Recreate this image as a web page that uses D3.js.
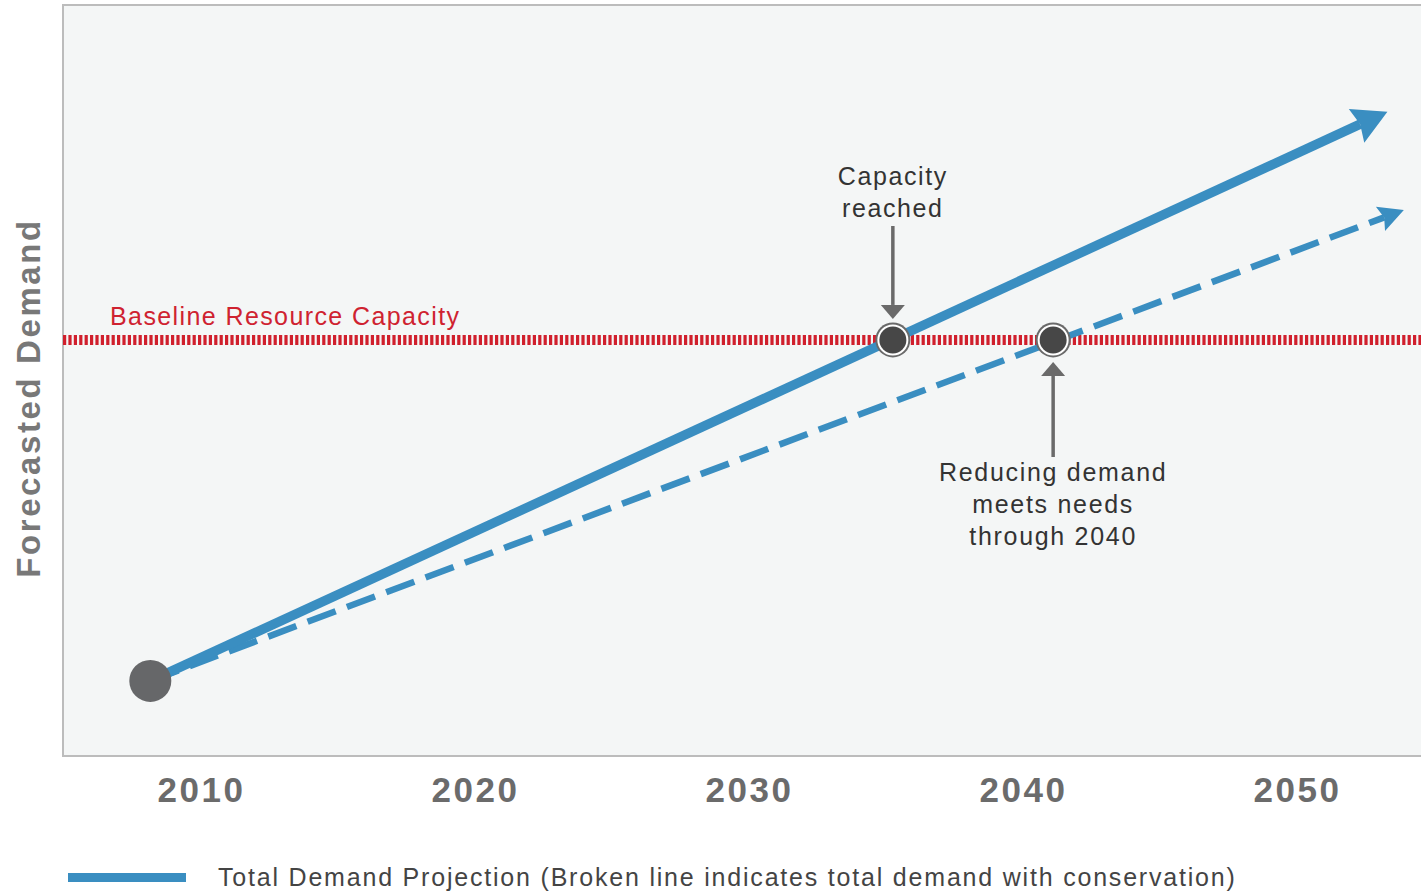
<!DOCTYPE html>
<html>
<head>
<meta charset="utf-8">
<script src="https://cdn.jsdelivr.net/npm/d3@7"></script>
<style>
  html, body { margin: 0; padding: 0; background: #fff; }
  svg { display: block; font-family: "Liberation Sans", Arial, Helvetica, sans-serif; }
</style>
</head>
<body>
<svg id="chart" width="1421" height="894"></svg>
<script>
// data (demand in arbitrary units, 0-100 across the plot)
const years = [2010, 2020, 2030, 2040, 2050];
const capacity = 55.4;
const totalDemand = [ { year: 2008.15, demand: 10 }, { year: 2053.3, demand: 85.8 } ];
const conservationDemand = [ { year: 2008.15, demand: 10 }, { year: 2053.9, demand: 72.7 } ];
const crossings = [ { year: 2035.25, demand: 55.4 }, { year: 2041.1, demand: 55.4 } ];
const capacityNote = ['Capacity', 'reached'];
const reducingNote = ['Reducing demand', 'meets needs', 'through 2040'];

const svg = d3.select('#chart');
const blue = '#3a8ec1';

const x = d3.scaleLinear().domain([2010, 2050]).range([201, 1297]);
const y = d3.scaleLinear().domain([0, 100]).range([756, 5]);

// plot background + frame
svg.append('rect')
  .attr('x', 63).attr('y', 5)
  .attr('width', 1421 - 63 + 10).attr('height', 751)
  .attr('fill', '#f4f6f6')
  .attr('stroke', '#bcbcbc').attr('stroke-width', 2);

// x axis labels
const xAxis = svg.append('g')
  .attr('transform', 'translate(0,756)')
  .call(d3.axisBottom(x).tickValues(years).tickFormat(d3.format('d')).tickSize(0).tickPadding(0));
xAxis.select('.domain').remove();
xAxis.selectAll('text')
  .attr('y', 46).attr('dy', 0)
  .attr('fill', '#6b6b6b')
  .style('font-size', '35px').style('font-weight', 'bold').style('letter-spacing', '2.5px')
  .style('font-family', '"Liberation Sans", Arial, sans-serif');

// y axis label
svg.append('text')
  .attr('transform', 'translate(40,398) rotate(-90)')
  .attr('text-anchor', 'middle')
  .attr('fill', '#787878')
  .style('font-size', '33px').style('font-weight', 'bold').style('letter-spacing', '2.6px')
  .text('Forecasted Demand');

// baseline capacity
svg.append('line')
  .attr('x1', 63).attr('x2', 1421)
  .attr('y1', y(capacity)).attr('y2', y(capacity))
  .attr('stroke', '#d01f2c').attr('stroke-width', 10)
  .attr('stroke-dasharray', '3.2,2.2');

svg.append('text')
  .attr('x', 110).attr('y', y(capacity) - 15)
  .attr('fill', '#cf2230')
  .style('font-size', '25px').style('letter-spacing', '1.4px')
  .text('Baseline Resource Capacity');

// demand lines with arrowheads
function drawProjection(data, width, dash, headLen, headHalf) {
  const p0 = [x(data[0].year), y(data[0].demand)];
  const p1 = [x(data[1].year), y(data[1].demand)];
  const dx = p1[0] - p0[0], dy = p1[1] - p0[1];
  const len = Math.hypot(dx, dy);
  const ux = dx / len, uy = dy / len;
  const base = [p1[0] - ux * (headLen - 4), p1[1] - uy * (headLen - 4)];
  svg.append('path')
    .attr('d', d3.line()([p0, base]))
    .attr('fill', 'none')
    .attr('stroke', blue)
    .attr('stroke-width', width)
    .attr('stroke-dasharray', dash);
  const b = [p1[0] - ux * headLen, p1[1] - uy * headLen];
  svg.append('path')
    .attr('d', d3.line()([
      p1,
      [b[0] - uy * headHalf, b[1] + ux * headHalf],
      [b[0] + ux * 4, b[1] + uy * 4],
      [b[0] + uy * headHalf, b[1] - ux * headHalf]
    ]) + 'Z')
    .attr('fill', blue);
}

drawProjection(conservationDemand, 6.5, '30,12', 25, 13);
drawProjection(totalDemand, 9.5, null, 34, 18.5);

// start point
svg.append('circle')
  .attr('cx', x(totalDemand[0].year)).attr('cy', y(totalDemand[0].demand))
  .attr('r', 21).attr('fill', '#666769');

// crossing markers
svg.selectAll('.cross')
  .data(crossings)
  .join('g')
  .attr('class', 'cross')
  .each(function (d) {
    const g = d3.select(this);
    g.append('circle').attr('cx', x(d.year)).attr('cy', y(d.demand))
      .attr('r', 17.5).attr('fill', '#6a6a6a');
    g.append('circle').attr('cx', x(d.year)).attr('cy', y(d.demand))
      .attr('r', 15.5).attr('fill', '#ffffff');
    g.append('circle').attr('cx', x(d.year)).attr('cy', y(d.demand))
      .attr('r', 13.5).attr('fill', '#474747');
  });

// annotation arrows
const gray = '#6a6a6a';
function vArrow(cx, yFrom, yTip) {
  const dir = yTip > yFrom ? 1 : -1;
  const headBase = yTip - dir * 14;
  svg.append('line')
    .attr('x1', cx).attr('x2', cx)
    .attr('y1', yFrom).attr('y2', headBase)
    .attr('stroke', gray).attr('stroke-width', 3.5);
  svg.append('path')
    .attr('d', d3.line()([[cx - 12, headBase], [cx + 12, headBase], [cx, yTip]]) + 'Z')
    .attr('fill', gray);
}

const c0 = crossings[0], c1 = crossings[1];
vArrow(x(c0.year), 226, y(c0.demand) - 21);
vArrow(x(c1.year), 457, y(c1.demand) + 22);

svg.append('g').selectAll('text')
  .data(capacityNote)
  .join('text')
  .attr('x', x(c0.year)).attr('y', (d, i) => 185 + i * 32)
  .attr('text-anchor', 'middle')
  .attr('fill', '#333')
  .style('font-size', '25px').style('letter-spacing', '1.6px')
  .text(d => d);

svg.append('g').selectAll('text')
  .data(reducingNote)
  .join('text')
  .attr('x', x(c1.year)).attr('y', (d, i) => 481 + i * 32)
  .attr('text-anchor', 'middle')
  .attr('fill', '#333')
  .style('font-size', '25px').style('letter-spacing', '1.7px')
  .text(d => d);

// legend
svg.append('line')
  .attr('x1', 68).attr('x2', 186).attr('y1', 877.5).attr('y2', 877.5)
  .attr('stroke', blue).attr('stroke-width', 9);
svg.append('text')
  .attr('x', 218).attr('y', 886)
  .attr('fill', '#444')
  .style('font-size', '25px').style('letter-spacing', '1.8px')
  .text('Total Demand Projection (Broken line indicates total demand with conservation)');
</script>
</body>
</html>
